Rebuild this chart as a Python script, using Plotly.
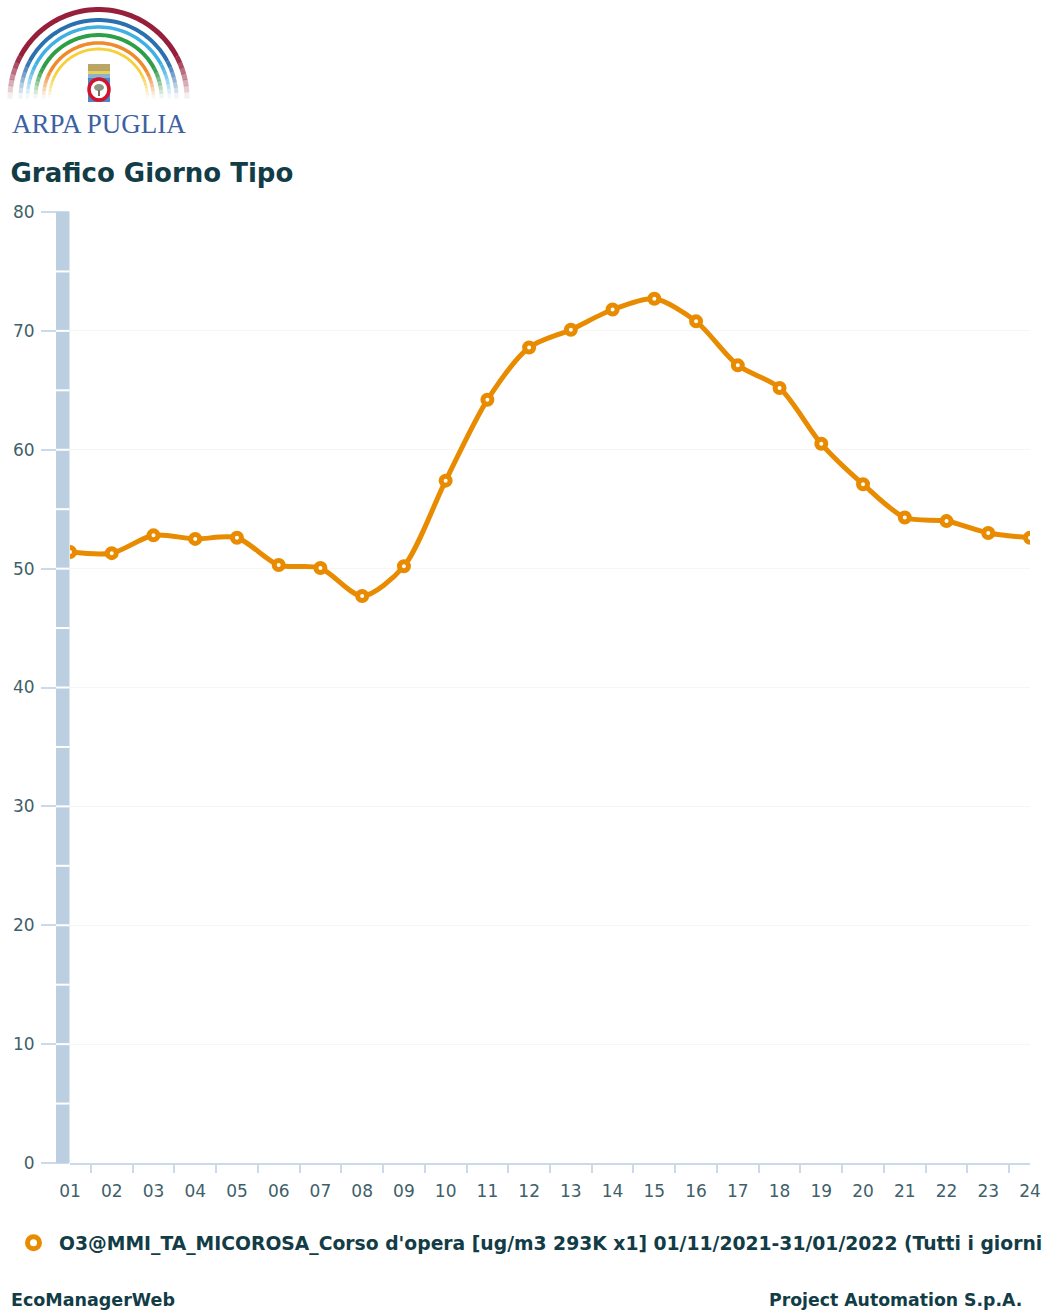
import numpy as np
import plotly.graph_objects as go

hours = ["01","02","03","04","05","06","07","08","09","10","11","12",
         "13","14","15","16","17","18","19","20","21","22","23","24"]
o3_values = [51.4,51.3,52.8,52.5,52.6,50.3,50.05,47.7,50.2,57.4,64.2,68.6,
             70.1,71.8,72.7,70.8,67.1,65.2,60.5,57.1,54.3,54.0,53.0,52.6]
series_name = "O3@MMI_TA_MICOROSA_Corso d'opera [ug/m3 293K x1] 01/11/2021-31/01/2022 (Tutti i giorni"
y_ticks = [0,10,20,30,40,50,60,70,80]

W, H = 1048, 1310
L, R, T, B = 70, 1030, 212, 1163
ORANGE = "#e88b00"
DARK = "#123c46"
TICK = "#3f5f6a"
AXIS = "#ccd9e8"
BAND = "#bccfe0"

def px(x): return (x - L) / (R - L)
def py(y): return (B - y) / (B - T)

shapes = []
# y-axis band beside the plot, broken every 5 units
shapes.append(dict(type="rect", xref="paper", yref="y", x0=px(56), x1=px(69.5), y0=0, y1=80,
                   fillcolor=BAND, line_width=0, layer="above"))
for v in range(5, 80, 5):
    shapes.append(dict(type="line", xref="paper", yref="y", x0=px(56), x1=px(69.5), y0=v, y1=v,
                       line=dict(color="white", width=2), layer="above"))

# logo: rainbow arcs, fading towards the base
arcs = [(88.5,"#96203c",5),(78,"#2a6fb0",4),(71,"#3fb0e6",3.5),(63,"#2f9e48",4),(55,"#ef8b2c",3.5),(49,"#f7cf3a",2.8)]
CX, CY = 98.5, 98
def arc_path(r, a0, a1, n):
    a = np.radians(np.linspace(a0, a1, n))
    xs = px(CX + r*np.cos(a)); ys = py(CY - r*np.sin(a))
    return "M" + " L".join(f"{x:.5f},{y:.5f}" for x, y in zip(xs, ys))
for r, c, w in arcs:
    shapes.append(dict(type="path", xref="paper", yref="paper", path=arc_path(r, 28, 152, 50),
                       line=dict(color=c, width=w)))
    for i in range(7):
        op = 1 - (i + 0.5)/7
        a0 = 28 - 4*i; a1 = a0 - 4.3
        for s0, s1 in ((a0, a1), (180-a0, 180-a1)):
            shapes.append(dict(type="path", xref="paper", yref="paper", path=arc_path(r, s0, s1, 4),
                               line=dict(color=c, width=w), opacity=op))

# logo: crest
def box(x0, y0, x1, y1, color, kind="rect", line=None):
    shapes.append(dict(type=kind, xref="paper", yref="paper", x0=px(x0), x1=px(x1), y0=py(y0), y1=py(y1),
                       fillcolor=color, line=line or dict(width=0)))
box(88, 64, 110, 71, "#b9a566")
box(88, 71, 110, 74, "#e6d25a")
box(88, 74, 110, 78, "#8fb0cf")
box(88, 78, 110, 102, "#4f86c6")
box(89, 79, 109, 100, "white", "circle", dict(color="#d0142c", width=3.5))
box(94, 84, 104, 91, "#8c9a84", "circle")
box(98, 90, 100, 96, "#7a7060")

fig = go.Figure()
fig.add_trace(go.Scatter(
    x=hours, y=o3_values, mode="lines+markers", showlegend=False, name=series_name,
    line=dict(color=ORANGE, width=5, shape="spline", smoothing=0.8),
    marker=dict(size=9, color="white", line=dict(color=ORANGE, width=5)),
))
fig.add_trace(go.Scatter(
    x=[None], y=[None], mode="markers", name=series_name, showlegend=True,
    marker=dict(size=12, color="white", line=dict(color=ORANGE, width=6)),
))

def note(x, y, text, size, color=DARK, anchor="left", family="DejaVu Sans", bold=True):
    return dict(xref="paper", yref="paper", x=px(x), y=py(y), xanchor=anchor, yanchor="middle",
                showarrow=False, text=f"<b>{text}</b>" if bold else text,
                font=dict(family=family, size=size, color=color))

fig.update_layout(
    width=W, height=H, autosize=False,
    margin=dict(l=L, r=W-R, t=T, b=H-B, pad=0, autoexpand=False),
    paper_bgcolor="white", plot_bgcolor="white",
    font=dict(family="DejaVu Sans", color=DARK),
    title=dict(text="<b>Grafico Giorno Tipo</b>", xref="container", yref="container",
               x=10.5/W, y=1-173/H, xanchor="left", yanchor="middle", pad=dict(l=0, r=0, t=0, b=0),
               font=dict(family="DejaVu Sans", size=26, color=DARK)),
    xaxis=dict(type="category", categoryorder="array", categoryarray=hours,
               range=[0, 23], tickson="boundaries", ticks="outside", ticklen=8, tickwidth=1.5,
               tickcolor=AXIS, showline=True, linecolor=AXIS, linewidth=2, showgrid=False,
               zeroline=False, tickfont=dict(size=17, color=TICK), tickangle=0, ticklabelstandoff=12),
    yaxis=dict(range=[0, 80], tickmode="array", tickvals=y_ticks, ticks="outside", ticklen=28,
               tickwidth=1.5, tickcolor=AXIS, showgrid=True, gridcolor="#f6f6f6", gridwidth=1,
               showline=False, zeroline=False, tickfont=dict(size=17, color=TICK), ticklabelstandoff=3),
    legend=dict(orientation="h", x=px(8), y=py(1243), xanchor="left", yanchor="middle",
                bgcolor="rgba(0,0,0,0)", font=dict(family="DejaVu Sans", size=18.75, color=DARK, weight="bold"),
                itemwidth=41),
    shapes=shapes,
    annotations=[
        note(10, 124, "ARPA PUGLIA", 27, "#3c62a4", family="Liberation Serif", bold=False),
        note(9, 1300, "EcoManagerWeb", 17.5),
        note(1024, 1300, "Project Automation S.p.A.", 17.3, anchor="right"),
    ],
)
fig.write_html("out.html", config=dict(displayModeBar=False),
               post_script="document.body.style.margin='0';document.body.style.overflow='hidden';")
